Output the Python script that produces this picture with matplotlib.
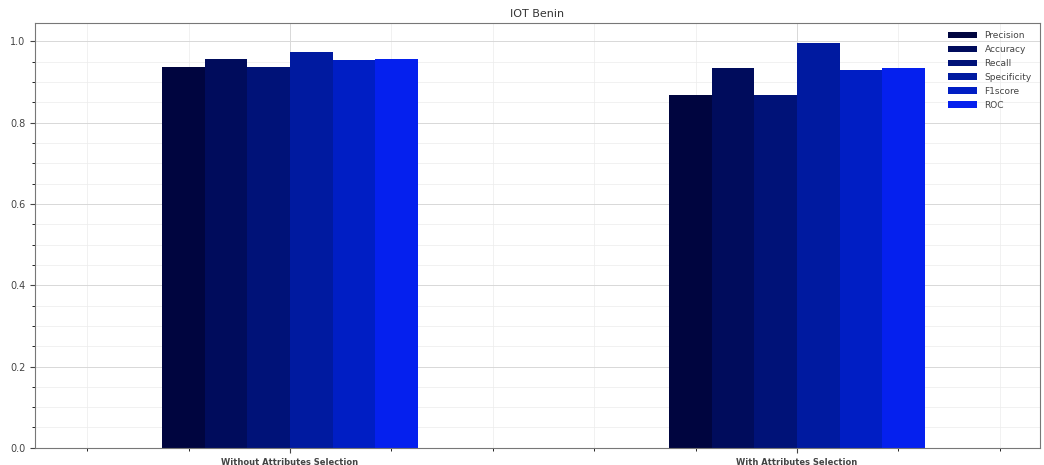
import numpy as np
import matplotlib
matplotlib.use("Agg")
import matplotlib.pyplot as plt

groups = ["Without Attributes Selection", "With Attributes Selection"]
metrics = ["Precision", "Accuracy", "Recall", "Specificity", "F1score", "ROC"]
precision = [0.937, 0.868]
accuracy = [0.956, 0.934]
recall = [0.937, 0.868]
specificity = [0.974, 0.996]
f1score = [0.954, 0.929]
roc = [0.956, 0.934]
colors = ['#00053f', '#000c5c', '#001278', '#001aa0', '#001ec4', '#0520ee']

values = [precision, accuracy, recall, specificity, f1score, roc]

fig = plt.figure(figsize=(10.44, 4.65), dpi=100)
ax = fig.add_axes([0.0335, 0.037, 0.9625, 0.914])

x = np.arange(len(groups))
width = 0.084
for i, (vals, name) in enumerate(zip(values, metrics)):
    ax.bar(x + (i - 2.5) * width, vals, width, color=colors[i], label=name)

ax.set_xticks(x)
ax.set_xticklabels(groups, fontsize=6, fontweight='bold')
ax.set_xlim(-0.503, 1.479)
ax.tick_params(axis='y', labelsize=7, colors='#444444')
ax.tick_params(axis='x', colors='#444444')
ax.minorticks_on()
ax.grid(True, which='major', color='#d8d8d8', linewidth=0.7)
ax.grid(True, which='minor', color='#ececec', linewidth=0.5)
ax.set_axisbelow(True)
for s in ax.spines.values():
    s.set_color('#777777')
ax.set_title("IOT Benin", fontsize=8, color='#333333', pad=4)
leg = ax.legend(loc='upper right', fontsize=6.5, frameon=False, handlelength=3.2,
                labelspacing=0.55)
for t in leg.get_texts():
    t.set_color('#444444')

fig.savefig("out.png", dpi=100)
